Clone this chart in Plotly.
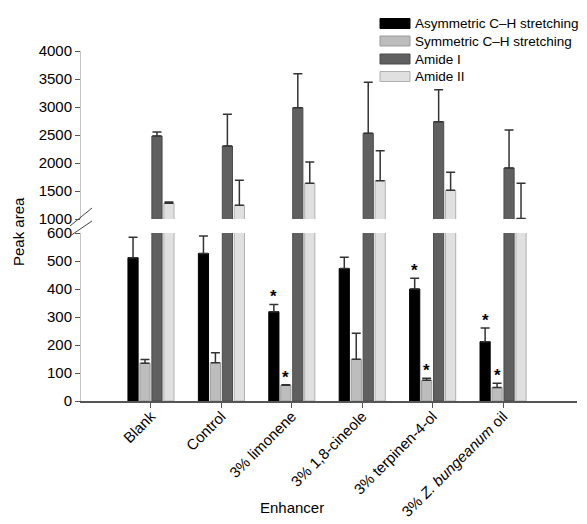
import plotly.graph_objects as go

categories = ["Blank", "Control", "3% limonene", "3% 1,8-cineole", "3% terpinen-4-ol",
              "3% <i>Z. bungeanum</i> oil"]
series_names = ["Asymmetric C\u2013H stretching", "Symmetric C\u2013H stretching", "Amide I", "Amide II"]

asym = [512, 527, 319, 473, 400, 212]
asym_err = [73, 62, 26, 40, 38, 49]
sym = [135, 137, 56, 149, 74, 48]
sym_err = [13, 35, 2, 93, 7, 15]
amide1 = [2482, 2304, 2988, 2530, 2738, 1911]
amide1_err = [72, 566, 607, 911, 571, 678]
amide2 = [1280, 1245, 1637, 1684, 1512, 1010]
amide2_err = [24, 446, 381, 536, 322, 627]

# significance markers: (category index, series index)
signif = [(2, 0), (2, 1), (4, 0), (4, 1), (5, 0), (5, 1)]

lower_ticks = [0, 100, 200, 300, 400, 500, 600]
upper_ticks = [1000, 1500, 2000, 2500, 3000, 3500, 4000]

fills = ["#000000", "#bdbdbd", "#606060", "#e0e0e0"]
lines = ["#000000", "#9a9a9a", "#4a4a4a", "#b0b0b0"]

values = [asym, sym, amide1, amide2]
errors = [asym_err, sym_err, amide1_err, amide2_err]
xs = list(range(len(categories)))

FONT = "Liberation Sans, Arial, sans-serif"
fig = go.Figure()
for axes in [("x", "y"), ("x2", "y2")]:
    for i in range(4):
        fig.add_trace(go.Bar(
            x=xs, y=values[i], name=series_names[i], xaxis=axes[0], yaxis=axes[1],
            marker=dict(color=fills[i], line=dict(color=lines[i], width=1)),
            error_y=dict(type="data", array=errors[i], arrayminus=[0] * len(xs), symmetric=False,
                         color="#333333", thickness=1.5, width=4.5),
            showlegend=False,
        ))

annotations = []
for ci, si in signif:
    offs = [-0.255, -0.085, 0.085, 0.255][si]
    annotations.append(dict(x=ci + offs, y=values[si][ci] + errors[si][ci], xref="x", yref="y",
                            text="<b>*</b>", showarrow=False, yanchor="bottom", yshift=-4,
                            font=dict(size=17, color="#000", family=FONT)))

# manual legend
shapes = []
W = 496.0
H = 350.0
def px(xp):
    return (xp - 81) / W
def py(yp):
    return (401 - yp) / H
leg_y = [23.5, 41, 59, 76.5]
for i in range(4):
    shapes.append(dict(type="rect", xref="paper", yref="paper", x0=px(380), x1=px(410),
                       y0=py(leg_y[i] + 5), y1=py(leg_y[i] - 5),
                       fillcolor=fills[i], line=dict(color=lines[i], width=1)))
    annotations.append(dict(x=px(413), y=py(leg_y[i]), xref="paper", yref="paper", text=series_names[i],
                            showarrow=False, xanchor="left", yanchor="middle",
                            font=dict(size=13.5, color="#000", family=FONT)))

# axis break marks
for (x0, y0, x1, y1) in [(70, 226, 92, 208), (70, 236, 92, 221)]:
    shapes.append(dict(type="line", xref="paper", yref="paper", x0=px(x0), y0=py(y0), x1=px(x1), y1=py(y1),
                       line=dict(color="#444", width=1)))

annotations.append(dict(x=px(18), y=py(232), xref="paper", yref="paper", text="Peak area", textangle=-90,
                        showarrow=False, xanchor="center", yanchor="middle",
                        font=dict(size=15, color="#000", family=FONT)))
annotations.append(dict(x=px(292), y=py(508), xref="paper", yref="paper", text="Enhancer",
                        showarrow=False, xanchor="center", yanchor="middle",
                        font=dict(size=15, color="#000", family=FONT)))

xrange = [-0.994, 6.05]
fig.update_layout(
    width=579, height=516,
    margin=dict(l=73, r=10, t=43, b=123, autoexpand=False),
    paper_bgcolor="white", plot_bgcolor="white",
    barmode="group", bargap=0.32, bargroupgap=0.15,
    showlegend=False,
    font=dict(family=FONT, size=15, color="#000"),
    xaxis=dict(domain=[0, 1], anchor="y", range=xrange, autorange=False, tickmode="array", tickvals=xs,
               ticktext=categories, tickangle=-45, showline=True, linecolor="#555", linewidth=1.5,
               ticks="outside", ticklen=5, tickcolor="#555", showgrid=False, zeroline=False,
               tickfont=dict(size=15), automargin=False, ticklabelstandoff=-6),
    xaxis2=dict(domain=[0, 1], anchor="y2", range=xrange, autorange=False, visible=False,
                showgrid=False, automargin=False),
    yaxis=dict(domain=[0, 168 / H], range=[0, 600], autorange=False, tickvals=lower_ticks, showline=True,
               linecolor="#c4c4c4", linewidth=1, ticks="outside", ticklen=5, tickcolor="#555",
               showgrid=False, zeroline=False, tickfont=dict(size=15), automargin=False),
    yaxis2=dict(domain=[182 / H, 1], range=[1000, 4000], autorange=False, tickvals=upper_ticks, showline=True,
                linecolor="#c4c4c4", linewidth=1, ticks="outside", ticklen=5, tickcolor="#555",
                showgrid=False, zeroline=False, tickfont=dict(size=15), automargin=False),
    shapes=shapes,
    annotations=annotations,
)

fig.write_html("out.html")
